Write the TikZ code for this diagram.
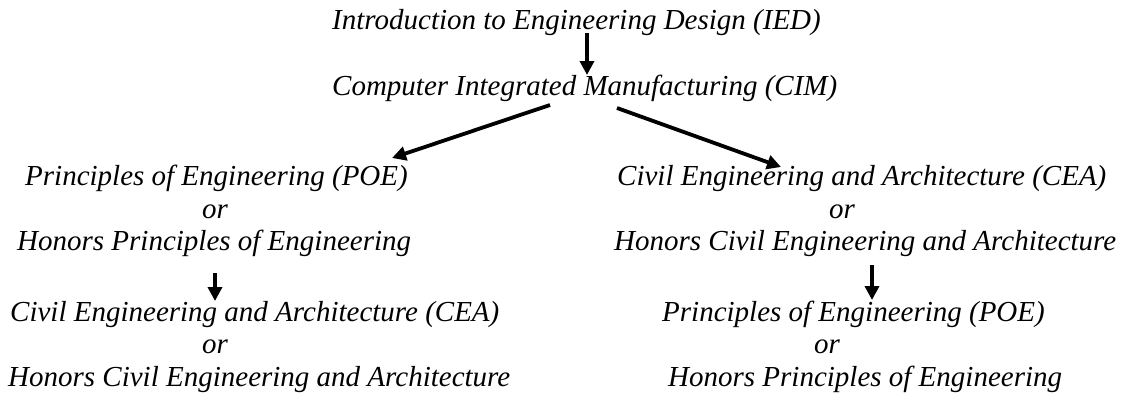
\documentclass[tikz,border=0pt]{standalone}
\usepackage{fontspec}
\setmainfont{Liberation Serif}
\usetikzlibrary{arrows.meta}
\begin{document}
\begin{tikzpicture}[x=1pt,y=-1pt,
  txt/.style={inner sep=0pt,anchor=base west,font=\fontsize{29}{33}\selectfont\itshape},
  ortxt/.style={inner sep=0pt,anchor=base,font=\fontsize{29}{33}\selectfont\itshape},
  arr/.style={line width=3.8pt,-{Triangle[length=14pt,width=14pt]}}]
\useasboundingbox (0,0) rectangle (1127,394);
% top
\node[txt] (ied) at (332,29) {Introduction to Engineering Design (IED)};
\node[txt] (cim) at (332,95) {Computer Integrated Manufacturing (CIM)};
% left column
\node[txt] (lpoe) at (25,185) {Principles of Engineering (POE)};
\node[ortxt] (lor1) at (215,218) {or};
\node[txt] (lhpoe) at (17,250) {Honors Principles of Engineering};
\node[txt] (lcea) at (10,321) {Civil Engineering and Architecture (CEA)};
\node[ortxt] (lor2) at (215,353) {or};
\node[txt] (lhcea) at (8,386) {Honors Civil Engineering and Architecture};
% right column
\node[txt] (rcea) at (617,185) {Civil Engineering and Architecture (CEA)};
\node[ortxt] (ror1) at (842,218) {or};
\node[txt] (rhcea) at (614,250) {Honors Civil Engineering and Architecture};
\node[txt] (rpoe) at (662,321) {Principles of Engineering (POE)};
\node[ortxt] (ror2) at (827,353) {or};
\node[txt] (rhpoe) at (668,386) {Honors Principles of Engineering};
% arrow end points
\coordinate (a1s) at (587,33);  \coordinate (a1e) at (587,75);
\coordinate (a2s) at (550,105); \coordinate (a2e) at (392,158);
\coordinate (a3s) at (617,108); \coordinate (a3e) at (781,167);
\coordinate (a4s) at (215,273); \coordinate (a4e) at (215,301);
\coordinate (a5s) at (872,265); \coordinate (a5e) at (872,300);
\draw[arr] (a1s) -- (a1e);
\draw[arr] (a2s) -- (a2e);
\draw[arr] (a3s) -- (a3e);
\draw[arr] (a4s) -- (a4e);
\draw[arr] (a5s) -- (a5e);
\end{tikzpicture}
\end{document}
